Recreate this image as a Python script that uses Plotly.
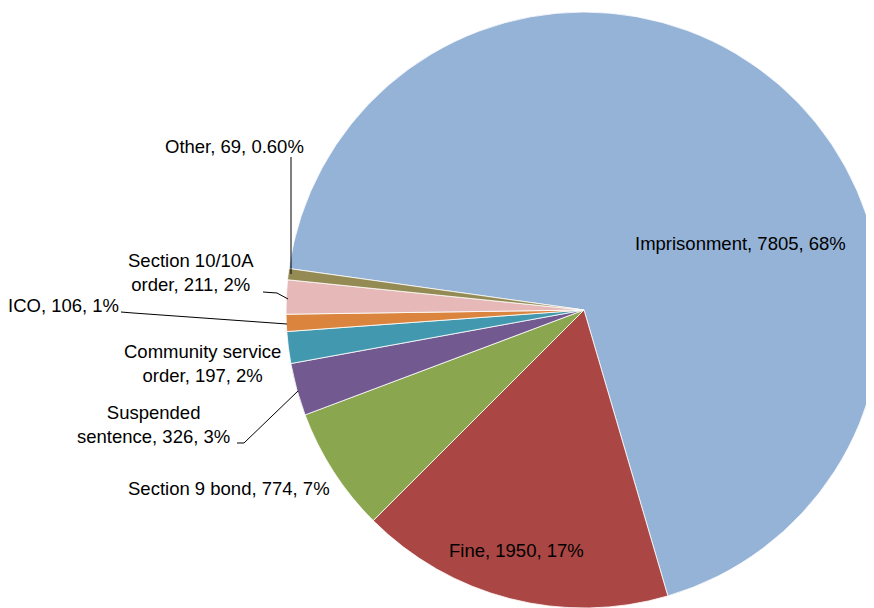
import plotly.graph_objects as go

# ---- data ----
categories = ["Imprisonment", "Fine", "Section 9 bond", "Suspended sentence",
              "Community service order", "ICO", "Section 10/10A order", "Other"]
display_names = ["Imprisonment", "Fine", "Section 9 bond", "Suspended<br>sentence",
                 "Community service<br>order", "ICO", "Section 10/10A<br>order", "Other"]
values = [7805, 1950, 774, 326, 197, 106, 211, 69]
pct_labels = ["68%", "17%", "7%", "3%", "2%", "1%", "2%", "0.60%"]
colors = ["#95B3D7", "#AA4644", "#8AA64F", "#72598F", "#4299AF",
          "#DB843D", "#E6B9B8", "#948A54"]

W, H = 874, 608
OFF = 8  # page body margin of the generated html

label_texts = [f"{n}, {v}, {p}" for n, v, p in zip(display_names, values, pct_labels)]

# label centres (screen pixels) and leader lines (screen pixels)
label_pos = [(740, 244), (516, 550), (229, 489), (153, 424),
             (202, 363), (63, 305), (191, 272), (234, 146)]
leaders = {
    "Other": [(291, 157), (291, 274)],
    "Section 10/10A order": [(263, 292), (277, 293), (288, 299)],
    "ICO": [(121, 312), (133, 313), (287, 324)],
    "Suspended sentence": [(237, 443), (244, 443), (298, 391)],
}


def px(x):
    return (x - OFF) / W


def py(y):
    return 1 - (y - OFF) / H


cx, cy, r = 584, 310, 298

fig = go.Figure(go.Pie(
    labels=categories,
    values=values,
    sort=False,
    direction="clockwise",
    rotation=-82,
    marker=dict(colors=colors, line=dict(color="white", width=0.8)),
    textinfo="none",
    hoverinfo="label+value+percent",
    domain=dict(x=[max(0, px(cx - r)), min(1, px(cx + r))],
                y=[max(0, py(cy + r)), min(1, py(cy - r))]),
    showlegend=False,
))

annotations = []
for txt, (x, y) in zip(label_texts, label_pos):
    annotations.append(dict(
        x=px(x), y=py(y), xref="paper", yref="paper",
        text=txt, showarrow=False, xanchor="center", yanchor="middle",
        align="center",
        font=dict(family="Liberation Sans, Arial, sans-serif", size=18.5, color="#000000"),
    ))

shapes = []
for name, pts in leaders.items():
    path = "M " + " L ".join(f"{px(x):.5f},{py(y):.5f}" for x, y in pts)
    shapes.append(dict(type="path", path=path, xref="paper", yref="paper",
                       line=dict(color="black", width=1)))

fig.update_layout(
    width=W, height=H,
    margin=dict(l=0, r=0, t=0, b=0),
    paper_bgcolor="white", plot_bgcolor="white",
    annotations=annotations,
    shapes=shapes,
)

fig.write_html("out.html")
